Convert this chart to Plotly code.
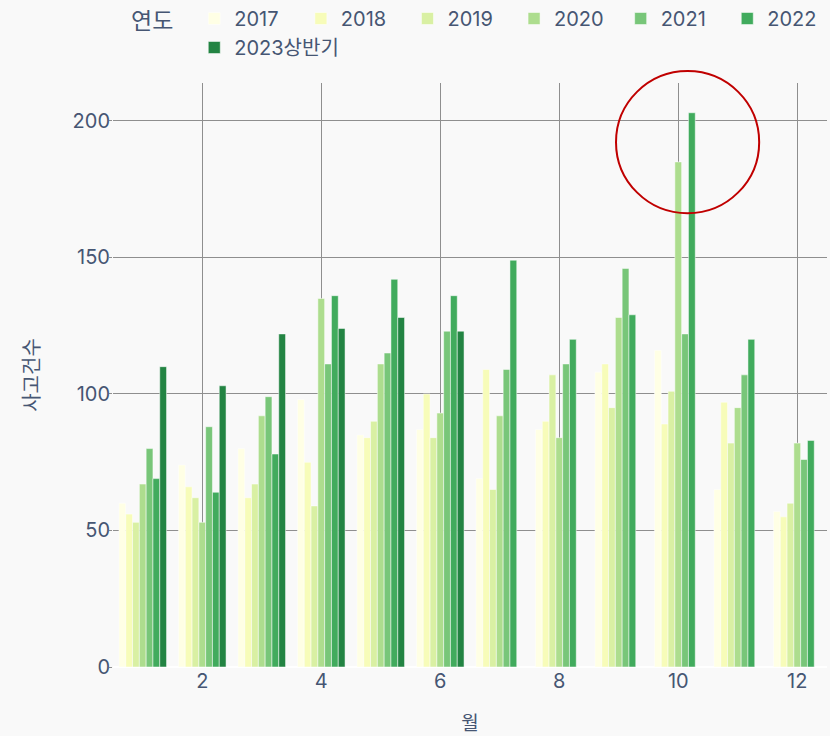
import plotly.graph_objects as go

months = list(range(1, 13))
years = ["2017", "2018", "2019", "2020", "2021", "2022", "2023상반기"]

# 월별 사고건수 (2023은 상반기만)
counts = {
    "2017": [60, 74, 80, 98, 85, 87, 69, 87, 108, 116, 65, 57],
    "2018": [56, 66, 62, 75, 84, 100, 109, 90, 111, 89, 97, 55],
    "2019": [53, 62, 67, 59, 90, 84, 65, 107, 95, 101, 82, 60],
    "2020": [67, 53, 92, 135, 111, 93, 92, 84, 128, 185, 95, 82],
    "2021": [80, 88, 99, 111, 115, 123, 109, 111, 146, 122, 107, 76],
    "2022": [69, 64, 78, 136, 142, 136, 149, 120, 129, 203, 120, 83],
    "2023상반기": [110, 103, 122, 124, 128, 123],
}

colors = ["rgb(255,255,229)", "rgb(247,252,185)", "rgb(217,240,163)", "rgb(173,221,142)",
          "rgb(120,198,121)", "rgb(65,171,93)", "rgb(35,132,67)"]

fig = go.Figure()
for yr, c in zip(years, colors):
    vals = counts[yr]
    fig.add_trace(go.Bar(x=months[:len(vals)], y=vals, name=yr,
                         marker=dict(color=c, line=dict(color="white", width=0.5))))

# 10월 강조 원
fig.add_shape(type="circle", xref="paper", yref="paper",
              x0=0.7045, x1=0.905, y0=0.777, y1=1.0205,
              line=dict(color="#c00000", width=2))

fig.update_layout(
    barmode="group",
    width=830, height=736,
    margin=dict(l=113, r=3, t=83, b=69, autoexpand=False),
    paper_bgcolor="#f9f9f9",
    plot_bgcolor="#f9f9f9",
    font=dict(family="Inter, Noto Sans CJK KR", size=20, color="#465673"),
    legend=dict(orientation="h", x=0.0224, xanchor="left", y=1.0274, yanchor="bottom",
                title=dict(text="연도\u00a0\u00a0", font=dict(size=23)), font=dict(size=20),
                entrywidth=61.6, bgcolor="rgba(0,0,0,0)"),
)
fig.update_xaxes(title_text="월", title_font_size=19, title_standoff=24,
                 range=[0.5, 12.5], dtick=2,
                 showgrid=True, gridcolor="#8f8f8f", gridwidth=1, zeroline=False)
fig.update_yaxes(title_text="사고건수", title_font_size=20, title_standoff=27,
                 range=[0, 213.9], dtick=50,
                 showgrid=True, gridcolor="#8f8f8f", gridwidth=1, zeroline=True,
                 zerolinecolor="white", zerolinewidth=2, ticks="outside", ticklen=3,
                 tickcolor="#8f8f8f", ticklabelstandoff=-5)

fig.write_html("out.html", config={"displayModeBar": False},
               post_script="document.body.style.margin='0';document.body.style.background='#f9f9f9';")
